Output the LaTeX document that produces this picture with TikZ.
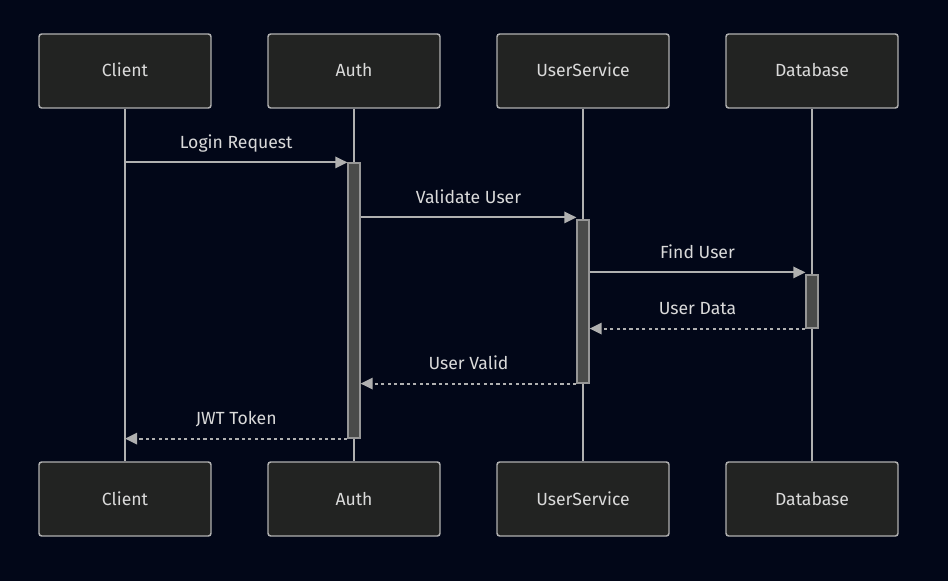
\documentclass[tikz,border=0pt]{standalone}
\usepackage{fontspec}
\setmainfont{Fira Sans}
\usetikzlibrary{arrows.meta}
\definecolor{bgnavy}{RGB}{2,7,24}
\definecolor{boxfill}{RGB}{34,35,34}
\definecolor{boxline}{RGB}{176,176,176}
\definecolor{txtgray}{RGB}{218,218,218}
\definecolor{actfill}{RGB}{74,75,74}
\definecolor{actline}{RGB}{150,150,150}

\begin{document}
\begin{tikzpicture}[x=0.75pt,y=0.75pt,yscale=-1,xscale=1,
  actor/.style={draw=boxline, line width=1.1pt, fill=boxfill, rounded corners=2pt,
    minimum width=129pt, minimum height=55.5pt, text=txtgray,
    text height=12pt, text depth=3pt,
    font=\fontsize{13.2pt}{15pt}\selectfont},
  lifeline/.style={draw=boxline, line width=1.5pt},
  act/.style={draw=actline, line width=0.9pt, fill=actfill, minimum width=9pt, inner sep=0pt},
  msg/.style={draw=boxline, line width=1.4pt, -{Triangle[length=9pt,width=8.5pt]}},
  reply/.style={msg, dash pattern=on 2.4pt off 2.4pt},
  lbl/.style={text=txtgray, font=\fontsize{13.2pt}{15pt}\selectfont,
    text height=12pt, text depth=3pt, yshift=15pt}]

% background
\fill[bgnavy] (0,0) rectangle (948,581);

% participants (top)
\node[actor] (clientTop) at (125,71) {Client};
\node[actor] (authTop) at (354,71) {Auth};
\node[actor] (usTop) at (583,71) {UserService};
\node[actor] (dbTop) at (812,71) {Database};

% participants (bottom)
\node[actor] (clientBot) at (125,499) {Client};
\node[actor] (authBot) at (354,499) {Auth};
\node[actor] (usBot) at (583,499) {UserService};
\node[actor] (dbBot) at (812,499) {Database};

% lifelines
\draw[lifeline] (clientTop.south) -- (clientBot.north);
\draw[lifeline] (authTop.south) -- (authBot.north);
\draw[lifeline] (usTop.south) -- (usBot.north);
\draw[lifeline] (dbTop.south) -- (dbBot.north);

% activations
\node[act, minimum height=206.25pt] (authAct) at (354,300.5) {};
\node[act, minimum height=122.25pt] (usAct) at (583,301.5) {};
\node[act, minimum height=39.75pt] (dbAct) at (812,301.5) {};

% messages
\draw[msg] (clientTop.south |- authAct.north) -- node[lbl] {Login Request} (authAct.north west);
\draw[msg] ([yshift=-1.5pt]authAct.east |- usAct.north) -- node[lbl] {Validate User} ([yshift=-1.5pt]usAct.north west);
\draw[msg] ([yshift=-1.5pt]usAct.east |- dbAct.north) -- node[lbl] {Find User} ([yshift=-1.5pt]dbAct.north west);

% replies
\draw[reply] (dbAct.south west) -- node[lbl] {User Data} (usAct.east |- dbAct.south);
\draw[reply] (usAct.south west) -- node[lbl] {User Valid} (authAct.east |- usAct.south);
\draw[reply] (authAct.south west) -- node[lbl] {JWT Token} (clientTop.south |- authAct.south);

\end{tikzpicture}
\end{document}
